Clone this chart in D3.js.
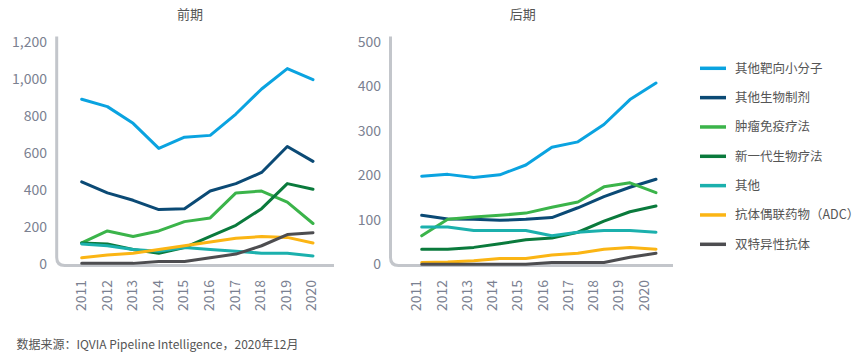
<!DOCTYPE html>
<html><head><meta charset="utf-8">
<script src="https://cdn.jsdelivr.net/npm/d3@7"></script>
<style>
body{margin:0;background:#fff;}
svg text{font-family:"Noto Sans CJK SC","Lato",sans-serif;}
.halt{font-feature-settings:"halt";}
</style></head>
<body><svg id="c" width="857" height="357"></svg>
<script>
const years = ["2011","2012","2013","2014","2015","2016","2017","2018","2019","2020"];
const seriesNames = ["其他靶向小分子","其他生物制剂","肿瘤免疫疗法","新一代生物疗法","其他","抗体偶联药物（ADC）","双特异性抗体"];
const seriesColors = ["#0aa3e0","#0b4a75","#3bb44a","#0a7a3c","#1bb0ad","#fbb514","#4d4d50"];
// 前期
const earlyTargetedSM = [890,850,760,625,685,695,810,945,1055,995];
const earlyOtherBio   = [445,385,345,295,300,395,435,495,635,555];
const earlyIO         = [115,180,150,180,230,250,385,395,335,220];
const earlyNextGen    = [115,110,80,60,90,150,210,300,435,405];
const earlyOther      = [110,100,80,70,90,80,70,60,60,45];
const earlyADC        = [35,50,60,80,100,120,140,150,145,115];
const earlyBispecific = [5,5,5,15,15,35,55,100,160,170];
// 后期
const lateTargetedSM = [198,202,195,201,223,263,275,314,370,407];
const lateOtherBio   = [110,102,101,99,101,105,127,152,173,191];
const lateIO         = [64,101,106,110,115,128,140,174,183,161];
const lateNextGen    = [34,34,38,46,55,59,72,97,118,131];
const lateOther      = [84,84,76,76,76,64,72,76,76,72];
const lateADC        = [4,5,8,13,13,21,25,34,38,34];
const lateBispecific = [0,0,0,0,0,4,4,4,16,25];
const earlyTicks = [0,200,400,600,800,1000,1200];
const lateTicks = [0,100,200,300,400,500];

const svg = d3.select("#c");
const textColor = "#7b8191";

function panel(opt){
  const g = svg.append("g");
  const y = d3.scaleLinear().domain([0,opt.max]).range([264.3,41.7]);
  const xData = d3.scalePoint().domain(years).range(opt.dataRange);
  const xLab = d3.scalePoint().domain(years).range(opt.labRange);
  // axis frame
  const x0 = opt.axisX, yb = 265.5, top = 36.5, r = 8;
  g.append("path")
    .attr("d", `M${x0},${top}V${yb-r}Q${x0},${yb} ${x0+r},${yb}H${opt.axisEnd}`)
    .attr("fill","none").attr("stroke","#c3c6cb").attr("stroke-width",3);
  // y ticks
  const ya = d3.axisLeft(y).tickValues(opt.ticks).tickSize(0).tickPadding(0)
    .tickFormat(d3.format(","));
  const yg = g.append("g").attr("transform",`translate(${opt.labelRight},0)`).call(ya);
  yg.select(".domain").remove();
  yg.selectAll("text").attr("fill",textColor).style("font-size","14px");
  // x ticks
  const xa = d3.axisBottom(xLab).tickSize(0).tickPadding(0);
  const xg = g.append("g").attr("transform","translate(0,280)").call(xa);
  xg.select(".domain").remove();
  xg.selectAll("text").attr("fill",textColor).style("font-size","14px")
    .attr("transform","rotate(-90)").attr("text-anchor","end")
    .attr("x",0).attr("y",0).attr("dy","0.35em");
  // title
  g.append("text").attr("x",opt.titleX).attr("y",19).attr("text-anchor","middle")
    .attr("fill","#555").style("font-size","13px").text(opt.title);
  // lines
  const line = d3.line().x((d,i)=>xData(years[i])).y(d=>y(d));
  opt.data.forEach((s,i)=>{
    g.append("path").datum(s).attr("d",line).attr("fill","none")
      .attr("stroke",seriesColors[i]).attr("stroke-width",3)
      .attr("stroke-linejoin","round").attr("stroke-linecap","round");
  });
}

panel({max:1200,ticks:earlyTicks,dataRange:[81.7,313],labRange:[81,310.7],axisX:56.7,axisEnd:334,
  labelRight:47,title:"前期",titleX:190,
  data:[earlyTargetedSM,earlyOtherBio,earlyIO,earlyNextGen,earlyOther,earlyADC,earlyBispecific]});
panel({max:500,ticks:lateTicks,dataRange:[421.7,656],labRange:[416,643.3],axisX:390.5,axisEnd:673,
  labelRight:381,title:"后期",titleX:522.7,
  data:[lateTargetedSM,lateOtherBio,lateIO,lateNextGen,lateOther,lateADC,lateBispecific]});

// legend
const leg = svg.append("g");
const ly = d3.scalePoint().domain(seriesNames).range([68.3,244.3]);
seriesNames.forEach((n,i)=>{
  leg.append("line").attr("x1",700).attr("x2",726).attr("y1",ly(n)).attr("y2",ly(n))
    .attr("stroke",seriesColors[i]).attr("stroke-width",3.5);
  const t = leg.append("text").attr("x",735).attr("y",ly(n)).attr("dy","0.35em")
    .attr("fill","#555").style("font-size","12.5px");
  if (n.endsWith("）")) {
    t.append("tspan").text(n.slice(0,-1));
    t.append("tspan").attr("class","halt").text("）");
  } else {
    t.text(n);
  }
});

svg.append("text").attr("x",16.5).attr("y",345).attr("dy","0.35em")
  .attr("fill","#555").style("font-size","12px")
  .text("数据来源：IQVIA Pipeline Intelligence，2020年12月");
</script></body></html>
